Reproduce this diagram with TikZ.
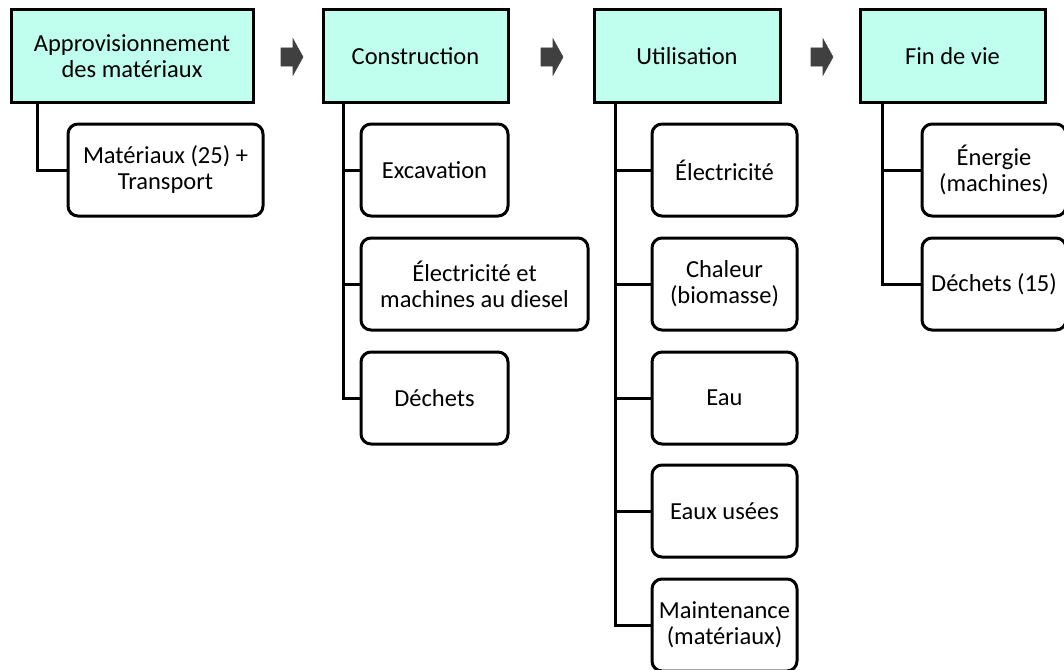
\documentclass[tikz,border=0pt]{standalone}
\usepackage{fontspec}
\setmainfont{Carlito}
\definecolor{headfill}{RGB}{192,255,238}
\definecolor{arrowfill}{RGB}{64,64,64}
\begin{document}
\begin{tikzpicture}[x=1pt,y=-1pt,
  box/.style={draw=black, line width=3pt, inner sep=0pt, align=center,
              font=\fontsize{24.5}{26}\selectfont},
  head/.style={box, fill=headfill, minimum height=92pt},
  item/.style={box, fill=white, rounded corners=10pt, minimum height=92pt},
  tree/.style={draw=black, line width=3pt},
  flow/.style={draw=black!75, fill=arrowfill, line width=0.6pt, line join=miter},
  blockarrow/.pic={
    \path[flow] (-11,-9) -- (1,-9) -- (1,-18) -- (11,0) -- (1,18) -- (1,9)
                -- (-11,9) -- cycle;
  }]
\useasboundingbox (0,0) rectangle (1064,669);

% phase headers
\node[head, minimum width=242pt] (h1) at (132,56) {Approvisionnement\\des matériaux};
\node[head, minimum width=185pt] (h2) at (415.5,56) {Construction};
\node[head, minimum width=186pt] (h3) at (687,56) {Utilisation};
\node[head, minimum width=185pt] (h4) at (952.5,56) {Fin de vie};

% block arrows between phases
\coordinate (a1) at (292,57);
\coordinate (a2) at (552,57);
\coordinate (a3) at (822,57);
\pic at (a1) {blockarrow};
\pic at (a2) {blockarrow};
\pic at (a3) {blockarrow};

% items of each phase
\node[item, minimum width=195pt] (c1) at (165.5,170) {Matériaux (25) +\\Transport};

\node[item, minimum width=147pt] (c2a) at (434.5,170) {Excavation};
\node[item, minimum width=227pt] (c2b) at (474.5,284) {Électricité et\\machines au diesel};
\node[item, minimum width=147pt] (c2c) at (434.5,398) {Déchets};

\node[item, minimum width=145pt] (c3a) at (724.5,170) {Électricité};
\node[item, minimum width=145pt] (c3b) at (724.5,284) {Chaleur\\(biomasse)};
\node[item, minimum width=145pt] (c3c) at (724.5,398) {Eau};
\node[item, minimum width=145pt] (c3d) at (724.5,511) {Eaux usées};
\node[item, minimum width=145pt] (c3e) at (724.5,625) {Maintenance\\(matériaux)};

\node[item, minimum width=144pt] (c4a) at (994,170) {Énergie\\(machines)};
\node[item, minimum width=144pt] (c4b) at (994,284) {Déchets (15)};

% tree connectors
\coordinate (t1) at (37,102);
\coordinate (t2) at (343,102);
\coordinate (t3) at (615,102);
\coordinate (t4) at (882,102);

\draw[tree] (t1) |- (c1.west);

\draw[tree] (t2) |- (c2a.west);
\draw[tree] (t2) |- (c2b.west);
\draw[tree] (t2) |- (c2c.west);

\draw[tree] (t3) |- (c3a.west);
\draw[tree] (t3) |- (c3b.west);
\draw[tree] (t3) |- (c3c.west);
\draw[tree] (t3) |- (c3d.west);
\draw[tree] (t3) |- (c3e.west);

\draw[tree] (t4) |- (c4a.west);
\draw[tree] (t4) |- (c4b.west);
\end{tikzpicture}
\end{document}
